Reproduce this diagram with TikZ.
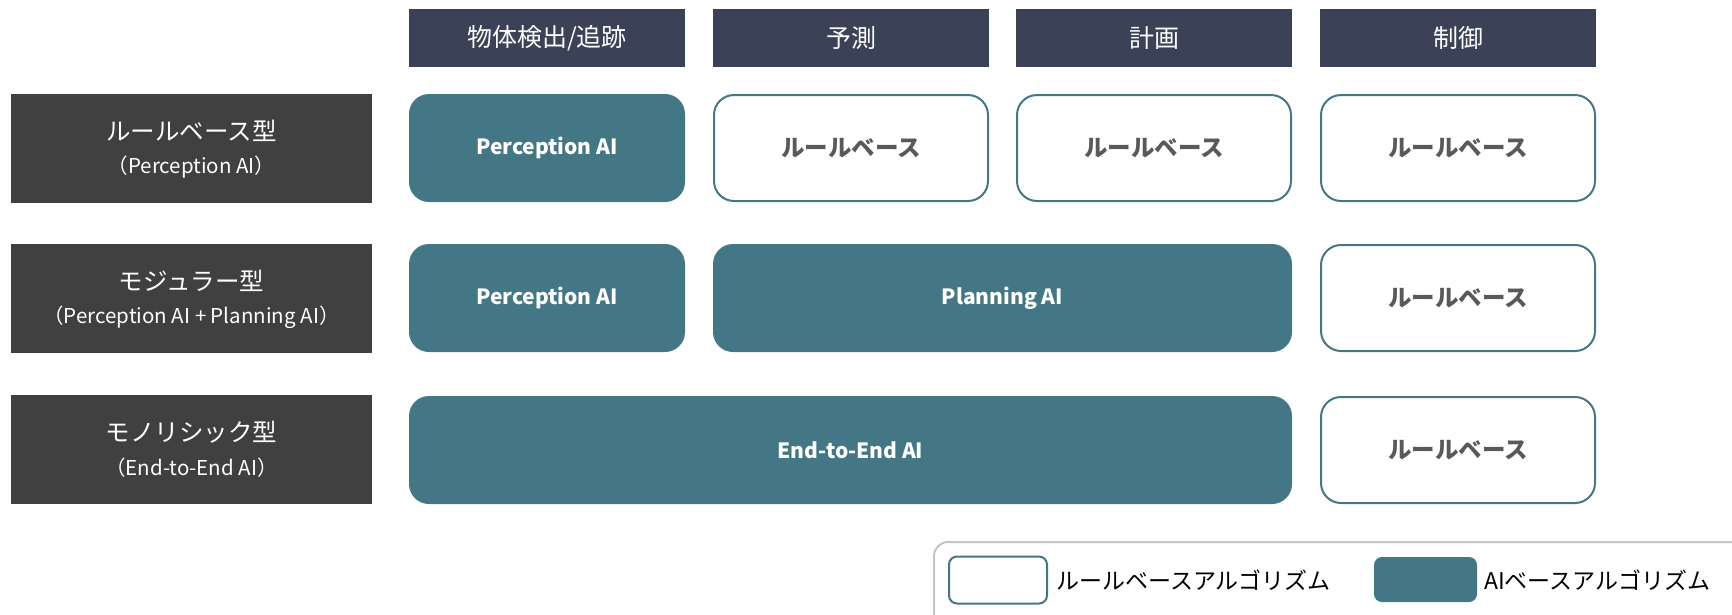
\documentclass[tikz,border=0pt]{standalone}
\usepackage{fontspec}
\setmainfont{Noto Sans CJK JP}
\definecolor{hdr}{HTML}{3B4157}
\definecolor{lbl}{HTML}{404040}
\definecolor{aiteal}{HTML}{447786}
\definecolor{rtxt}{HTML}{595959}
\definecolor{lgbd}{HTML}{C4C4C4}
\tikzset{
  hdrbox/.style={fill=hdr, text=white, minimum width=276pt, minimum height=58pt, inner sep=0pt, font=\fontsize{25}{30}\selectfont},
  lblbox/.style={fill=lbl, minimum width=361pt, minimum height=109pt, inner sep=0pt},
  lbltitle/.style={text=white, inner sep=0pt, font=\fontsize{24.5}{28}\selectfont},
  lblsub/.style={text=white, inner sep=0pt, font=\fontsize{20.5}{24}\selectfont},
  aibox/.style={fill=aiteal, rounded corners=20pt, minimum height=108pt, text=white, inner sep=0pt, font=\bfseries\fontsize{21}{25}\selectfont},
  rulebox/.style={draw=aiteal, line width=2pt, fill=white, rounded corners=20pt, minimum width=274pt, minimum height=106pt, text=rtxt, inner sep=0pt, font=\bfseries\fontsize{23.5}{28}\selectfont},
  legframe/.style={draw=lgbd, line width=2pt, rounded corners=14pt, minimum width=860pt, minimum height=120pt, inner sep=0pt},
  legrule/.style={draw=aiteal, line width=2pt, fill=white, rounded corners=8pt, minimum width=98pt, minimum height=47pt, inner sep=0pt},
  legai/.style={fill=aiteal, rounded corners=8pt, minimum width=103pt, minimum height=45pt, inner sep=0pt},
  legtext/.style={anchor=west, inner sep=0pt, text=black, font=\fontsize{23}{27}\selectfont}
}
\begin{document}
\begin{tikzpicture}[x=1pt,y=-1pt]
\useasboundingbox (0,0) rectangle (1732,614);
\clip (0,0) rectangle (1732,614);
% headers
\node[hdrbox] (h1) at (547,38) {物体検出/追跡};
\node[hdrbox] (h2) at (851,38) {予測};
\node[hdrbox] (h3) at (1154,38) {計画};
\node[hdrbox] (h4) at (1458,38) {制御};
% row labels
\node[lblbox] (l1) at (191.5,148) {};
\node[lbltitle] (l1t) at (191.5,131) {ルールベース型};
\node[lblsub] (l1s) at (191.5,167) {（Perception AI）};
\node[lblbox] (l2) at (191.5,298) {};
\node[lbltitle] (l2t) at (191.5,281) {モジュラー型};
\node[lblsub] (l2s) at (191.5,317) {（Perception AI + Planning AI）};
\node[lblbox] (l3) at (191.5,449.5) {};
\node[lbltitle] (l3t) at (191.5,432) {モノリシック型};
\node[lblsub] (l3s) at (191.5,468) {（End-to-End AI）};
% row 1
\node[aibox, minimum width=276pt] (r1a) at (547,148) {Perception AI};
\node[rulebox] (r1b) at (851,148) {ルールベース};
\node[rulebox] (r1c) at (1154,148) {ルールベース};
\node[rulebox] (r1d) at (1458,148) {ルールベース};
% row 2
\node[aibox, minimum width=276pt] (r2a) at (547,298) {Perception AI};
\node[aibox, minimum width=579pt] (r2b) at (1002.5,298) {Planning AI};
\node[rulebox] (r2d) at (1458,298) {ルールベース};
% row 3
\node[aibox, minimum width=883pt] (r3a) at (850.5,450) {End-to-End AI};
\node[rulebox] (r3d) at (1458,450) {ルールベース};
% legend
\node[legframe] (leg) at (1364,602) {};
\node[legrule] (lgr) at (998,580) {};
\node[legtext] (lgrt) at (1056,580) {ルールベースアルゴリズム};
\node[legai] (lga) at (1425.5,579.5) {};
\node[legtext] (lgat) at (1484,580) {AIベースアルゴリズム};
\end{tikzpicture}
\end{document}
